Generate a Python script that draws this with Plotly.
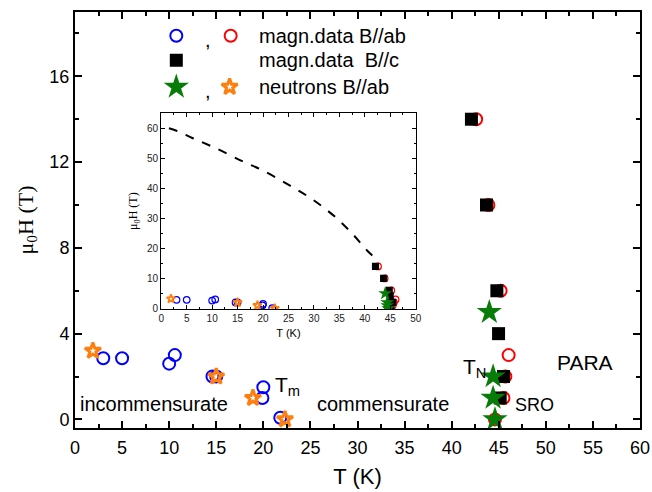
import plotly.graph_objects as go

# ---------------- data ----------------
# magnetization data, B//ab, low temperature (blue open circles)
blue_T = [3.0, 5.0, 10.0, 10.6, 14.6, 15.0, 19.9, 20.0, 21.8]
blue_H = [2.85, 2.85, 2.6, 3.0, 2.0, 2.0, 1.0, 1.5, 0.08]
# magnetization data, B//ab, near T_N (red open circles)
red_T = [42.6, 43.9, 45.2, 46.05, 45.7, 45.5, 44.6]
red_H = [14.0, 10.0, 6.0, 3.0, 2.0, 1.0, 0.0]
# magnetization data, B//c (black squares)
sq_T = [42.1, 43.7, 44.8, 44.98, 45.5, 45.15]
sq_H = [14.0, 10.0, 6.0, 4.0, 2.0, 1.0]
# neutrons B//ab, near T_N (green stars)
green_T = [44.0, 44.4, 44.4, 44.6]
green_H = [5.0, 2.0, 1.0, 0.0]
# neutrons B//ab, low temperature (orange open stars)
orange_T = [1.9, 15.0, 18.9, 22.3]
orange_H = [3.2, 2.0, 1.0, 0.0]
# dashed extrapolation in inset
dash_T = [1.5, 3.0, 6.2, 10.8, 16.1, 20.0, 25.3, 29.9, 34.5, 37.8, 40.4, 42.05]
dash_H = [60.0, 59.2, 56.7, 53.3, 48.9, 45.9, 40.9, 36.1, 30.0, 24.4, 19.4, 16.7]

main_xticks = [0, 5, 10, 15, 20, 25, 30, 35, 40, 45, 50, 55, 60]
main_yticks = [0, 4, 8, 12, 16]
inset_xticks = [0, 5, 10, 15, 20, 25, 30, 35, 40, 45, 50]
inset_yticks = [0, 10, 20, 30, 40, 50, 60]

BLUE = "#0000ff"
RED = "#ff0000"
GREEN = "#087c08"
ORANGE = "#ff7f0e"
FONT = "Arial"

fig = go.Figure()


def add_series(xa, ya, scale):
    lw = max(scale, 0.6)
    fig.add_trace(go.Scatter(x=blue_T, y=blue_H, mode="markers", xaxis=xa, yaxis=ya,
                             marker=dict(symbol="circle-open", size=12 * scale, color=BLUE,
                                         line=dict(width=2 * lw, color=BLUE)),
                             showlegend=False))
    fig.add_trace(go.Scatter(x=red_T, y=red_H, mode="markers", xaxis=xa, yaxis=ya,
                             marker=dict(symbol="circle-open", size=12 * scale, color=RED,
                                         line=dict(width=2 * lw, color=RED)),
                             showlegend=False))
    fig.add_trace(go.Scatter(x=sq_T, y=sq_H, mode="markers", xaxis=xa, yaxis=ya,
                             marker=dict(symbol="square", size=13 * scale, color="black"),
                             showlegend=False))
    fig.add_trace(go.Scatter(x=orange_T, y=orange_H, mode="markers", xaxis=xa, yaxis=ya,
                             marker=dict(symbol="star-open", size=12 * scale, color=ORANGE,
                                         line=dict(width=3 * lw, color=ORANGE)),
                             showlegend=False))
    fig.add_trace(go.Scatter(x=green_T, y=green_H, mode="markers", xaxis=xa, yaxis=ya,
                             marker=dict(symbol="star", size=19 * scale, color=GREEN,
                                         line=dict(width=0)),
                             showlegend=False))


# main plot
add_series("x", "y", 1.0)

# inset
fig.add_trace(go.Scatter(x=dash_T, y=dash_H, mode="lines", xaxis="x2", yaxis="y2",
                         line=dict(color="black", width=2, dash="dash", shape="spline"),
                         showlegend=False))
add_series("x2", "y2", 0.55)

# hand-made legend keys (on an overlay axis in plot-area fractions)
fig.add_trace(go.Scatter(x=[0.1793, 0.2755], y=[0.943, 0.943], mode="markers",
                         xaxis="x3", yaxis="y3",
                         marker=dict(symbol="circle-open", size=12, color=[BLUE, RED],
                                     line=dict(width=2, color=[BLUE, RED])),
                         showlegend=False))
fig.add_trace(go.Scatter(x=[0.1793], y=[0.884], mode="markers", xaxis="x3", yaxis="y3",
                         marker=dict(symbol="square", size=13, color="black"),
                         showlegend=False))
fig.add_trace(go.Scatter(x=[0.1793], y=[0.820], mode="markers", xaxis="x3", yaxis="y3",
                         marker=dict(symbol="star", size=19, color=GREEN, line=dict(width=0)),
                         showlegend=False))
fig.add_trace(go.Scatter(x=[0.2737], y=[0.820], mode="markers", xaxis="x3", yaxis="y3",
                         marker=dict(symbol="star-open", size=12, color=ORANGE,
                                     line=dict(width=3, color=ORANGE)),
                         showlegend=False))

axis_common = dict(showline=True, linecolor="black", mirror="ticks", ticks="inside",
                   showgrid=False, zeroline=False, tickcolor="black", automargin=False)

fig.update_layout(
    width=652, height=492,
    margin=dict(l=75, r=12, t=12, b=64, autoexpand=False),
    paper_bgcolor="white", plot_bgcolor="rgba(0,0,0,0)",
    font=dict(family=FONT, color="black"),
    showlegend=False,
    xaxis=dict(**axis_common, domain=[0, 1], range=[0, 60], tickvals=main_xticks,
               linewidth=2, tickwidth=2, ticklen=7,
               minor=dict(dtick=2.5, ticks="inside", ticklen=4, tickwidth=1.5, tickcolor="black"),
               tickfont=dict(size=18, family=FONT), ticklabelstandoff=2,
               title=dict(text="T (K)", font=dict(size=22, family=FONT), standoff=12),
               anchor="y"),
    yaxis=dict(**axis_common, domain=[0, 1], range=[-0.4, 19], tickvals=main_yticks,
               linewidth=2, tickwidth=2, ticklen=7,
               minor=dict(dtick=2, ticks="inside", ticklen=4, tickwidth=1.5, tickcolor="black"),
               tickfont=dict(size=18, family=FONT),
               title=dict(text="μ<sub>0</sub>H (T)", font=dict(size=22, family="Liberation Serif"),
                          standoff=10),
               anchor="x"),
    xaxis2=dict(**axis_common, domain=[0.1527, 0.603], range=[0, 50], tickvals=inset_xticks,
                linewidth=1.2, tickwidth=1, ticklen=4,
                minor=dict(dtick=2.5, ticks="inside", ticklen=2, tickwidth=1, tickcolor="black"),
                tickfont=dict(size=10, family=FONT, color="#222"),
                title=dict(text="T (K)", font=dict(size=11, family=FONT), standoff=6),
                anchor="y2"),
    yaxis2=dict(**axis_common, domain=[0.286, 0.7565], range=[-0.2, 65], tickvals=inset_yticks,
                linewidth=1.2, tickwidth=1, ticklen=4,
                minor=dict(dtick=5, ticks="inside", ticklen=2, tickwidth=1, tickcolor="black"),
                tickfont=dict(size=10, family=FONT, color="#222"),
                title=dict(text="μ<sub>0</sub>H (T)", font=dict(size=12, family="Liberation Serif"),
                           standoff=6),
                anchor="x2"),
    xaxis3=dict(overlaying="x", range=[0, 1], visible=False, anchor="y3", fixedrange=True),
    yaxis3=dict(overlaying="y", range=[0, 1], visible=False, anchor="x3", fixedrange=True),
)

annots = [
    # legend texts
    dict(x=0.2347, y=0.933, text=",", size=20, xanchor="center"),
    dict(x=0.3215, y=0.943, text="magn.data B//ab", size=20, xanchor="left"),
    dict(x=0.3215, y=0.884, text="magn.data  B//c", size=20, xanchor="left"),
    dict(x=0.2347, y=0.810, text=",", size=20, xanchor="center"),
    dict(x=0.3215, y=0.820, text="neutrons B//ab", size=20, xanchor="left"),
]
for a in annots:
    fig.add_annotation(x=a["x"], y=a["y"], xref="paper", yref="paper", text=a["text"],
                       showarrow=False, xanchor=a["xanchor"], yanchor="middle",
                       font=dict(size=a["size"], family=FONT, color="black"))

# region labels (data coordinates of main plot)
labels = [
    (0.3, 0.7, "incommensurate", 20),
    (25.5, 0.7, "commensurate", 20),
    (21.0, 1.55, "T<sub>m</sub>", 21),
    (41.0, 2.4, "T<sub>N</sub>", 21),
    (51.0, 2.66, "PARA", 21),
    (46.5, 0.65, "SRO", 18),
]
for x, y, t, s in labels:
    fig.add_annotation(x=x, y=y, xref="x", yref="y", text=t, showarrow=False,
                       xanchor="left", yanchor="middle",
                       font=dict(size=s, family=FONT, color="black"))

fig.write_html("out.html")
